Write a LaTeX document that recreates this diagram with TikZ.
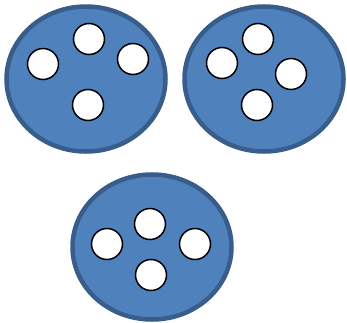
\documentclass[tikz,border=0pt]{standalone}
\usetikzlibrary{shapes.geometric}
\definecolor{cellfill}{HTML}{4F81BD}
\definecolor{celledge}{HTML}{385D8A}
\tikzset{
  cell/.style={ellipse, draw=celledge, fill=cellfill, line width=4.5pt, minimum width=159pt, minimum height=145pt, inner sep=0pt},
  dot/.style={circle, draw=black, fill=white, line width=1.5pt, minimum size=31pt, inner sep=0pt}
}
\begin{document}
\begin{tikzpicture}[x=1pt,y=-1pt]
\useasboundingbox (0,0) rectangle (347,322);
% cell 1
\node[cell] (c1) at (86,79) {};
\node[dot] (a1) at (43,64) {};
\node[dot] (a2) at (89,39) {};
\node[dot] (a3) at (133,59) {};
\node[dot] (a4) at (88,105) {};
% cell 2
\node[cell] (c2) at (264,79) {};
\node[dot] (b1) at (222,63) {};
\node[dot] (b2) at (258,39) {};
\node[dot] (b3) at (291,74) {};
\node[dot] (b4) at (257,105) {};
% cell 3
\node[cell] (c3) at (152,247) {};
\node[dot] (d1) at (107,244) {};
\node[dot] (d2) at (150,224) {};
\node[dot] (d3) at (195,244) {};
\node[dot] (d4) at (151,275) {};
\end{tikzpicture}
\end{document}
